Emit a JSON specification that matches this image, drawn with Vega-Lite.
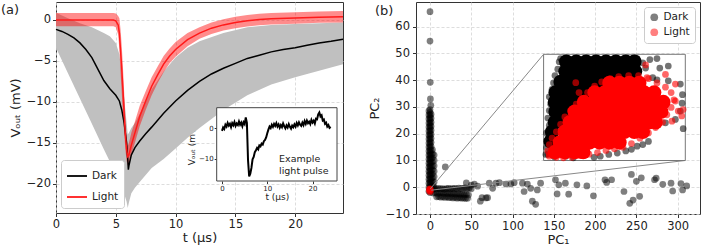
{
"$schema": "https://vega.github.io/schema/vega-lite/v6.json",
"padding": {"left": 0, "top": 1, "right": 0, "bottom": 0},
"spacing": 20,
"config": {
  "font": "DejaVu Sans",
  "view": {"stroke": "#333", "strokeWidth": 1},
  "axis": {"labelFont": "DejaVu Sans", "titleFont": "DejaVu Sans", "labelFontSize": 11.5, "titleFontSize": 13, "titleFontWeight": "normal", "labelColor": "#222", "titleColor": "#222", "tickColor": "#333", "tickSize": 3.5, "domain": false, "gridColor": "#d4d4d4", "gridDash": [3, 2], "gridWidth": 0.8, "labelPadding": 2, "labelFlush": false, "titlePadding": 4},
  "axisX": {"titlePadding": 1},
  "legend": {"fillColor": "white", "strokeColor": "#cccccc", "cornerRadius": 3, "padding": 5, "labelFont": "DejaVu Sans", "labelFontSize": 10.5, "labelColor": "#222", "rowPadding": 4}
},
"datasets": {
  "darkBand": [
    {"t":0,"lo":-3.4,"hi":0.9},{"t":1,"lo":-6.5,"hi":0.2},{"t":2,"lo":-9.6,"hi":-0.4},{"t":3,"lo":-12.7,"hi":-0.9},{"t":4,"lo":-15.8,"hi":-1.6},{"t":4.5,"lo":-17.3,"hi":-2.0},{"t":5,"lo":-18.9,"hi":-2.8},{"t":5.3,"lo":-19.8,"hi":-4.2},{"t":5.6,"lo":-20.8,"hi":-8.0},{"t":5.9,"lo":-22.2,"hi":-12.5},{"t":6.0,"lo":-23.0,"hi":-14.0},{"t":6.1,"lo":-22.3,"hi":-13.8},{"t":6.3,"lo":-21.2,"hi":-13.2},{"t":6.6,"lo":-20.5,"hi":-12.6},{"t":7,"lo":-19.8,"hi":-11.5},{"t":8,"lo":-18.1,"hi":-8.5},{"t":9,"lo":-17.0,"hi":-6.3},{"t":10,"lo":-15.7,"hi":-4.6},{"t":11,"lo":-14.4,"hi":-3.4},{"t":12,"lo":-13.2,"hi":-2.6},{"t":14,"lo":-11.0,"hi":-1.6},{"t":16,"lo":-9.2,"hi":-0.9},{"t":18,"lo":-7.9,"hi":-0.6},{"t":20,"lo":-7.0,"hi":-0.5},{"t":22,"lo":-6.2,"hi":-0.4},{"t":24,"lo":-5.4,"hi":-0.3}
  ],
  "lightBand": [
    {"t":0,"lo":-0.75,"hi":0.85},{"t":4.8,"lo":-0.75,"hi":0.85},{"t":5.0,"lo":-0.9,"hi":0.8},{"t":5.2,"lo":-1.8,"hi":0.5},{"t":5.3,"lo":-3.6,"hi":0.2},{"t":5.4,"lo":-6.5,"hi":-1.2},{"t":5.5,"lo":-9.0,"hi":-3.2},{"t":5.6,"lo":-11.5,"hi":-5.8},{"t":5.7,"lo":-13.8,"hi":-8.8},{"t":5.8,"lo":-15.8,"hi":-11.8},{"t":5.9,"lo":-17.2,"hi":-14.2},{"t":6.0,"lo":-17.8,"hi":-15.4},{"t":6.1,"lo":-17.6,"hi":-15.0},{"t":6.3,"lo":-16.5,"hi":-13.8},{"t":6.6,"lo":-15.0,"hi":-12.4},{"t":7.0,"lo":-13.0,"hi":-10.5},{"t":7.5,"lo":-11.0,"hi":-8.7},{"t":8.0,"lo":-9.2,"hi":-7.0},{"t":8.5,"lo":-7.7,"hi":-5.7},{"t":9.0,"lo":-6.4,"hi":-4.4},{"t":9.5,"lo":-5.3,"hi":-3.5},{"t":10,"lo":-4.5,"hi":-2.7},{"t":11,"lo":-3.2,"hi":-1.6},{"t":12,"lo":-2.3,"hi":-0.9},{"t":13,"lo":-1.7,"hi":-0.3},{"t":14,"lo":-1.3,"hi":0.1},{"t":15,"lo":-1.0,"hi":0.4},{"t":16,"lo":-0.8,"hi":0.6},{"t":17,"lo":-0.65,"hi":0.75},{"t":18,"lo":-0.55,"hi":0.85},{"t":20,"lo":-0.45,"hi":0.95},{"t":22,"lo":-0.35,"hi":1.05},{"t":24,"lo":-0.3,"hi":1.1}
  ],
  "lines": [
    {"t":0,"v":-1.15,"s":"Dark"},{"t":0.5,"v":-1.4,"s":"Dark"},{"t":1,"v":-1.75,"s":"Dark"},{"t":1.5,"v":-2.2,"s":"Dark"},{"t":2,"v":-2.8,"s":"Dark"},{"t":2.5,"v":-3.6,"s":"Dark"},{"t":3,"v":-4.6,"s":"Dark"},{"t":3.5,"v":-6.0,"s":"Dark"},{"t":4,"v":-7.4,"s":"Dark"},{"t":4.5,"v":-8.4,"s":"Dark"},{"t":5,"v":-9.2,"s":"Dark"},{"t":5.3,"v":-9.9,"s":"Dark"},{"t":5.5,"v":-11.0,"s":"Dark"},{"t":5.7,"v":-12.6,"s":"Dark"},{"t":5.9,"v":-15.0,"s":"Dark"},{"t":6.0,"v":-17.0,"s":"Dark"},{"t":6.05,"v":-18.3,"s":"Dark"},{"t":6.1,"v":-17.8,"s":"Dark"},{"t":6.3,"v":-16.5,"s":"Dark"},{"t":6.6,"v":-15.6,"s":"Dark"},{"t":7,"v":-14.8,"s":"Dark"},{"t":7.5,"v":-13.9,"s":"Dark"},{"t":8,"v":-13.1,"s":"Dark"},{"t":9,"v":-11.4,"s":"Dark"},{"t":10,"v":-9.9,"s":"Dark"},{"t":11,"v":-8.6,"s":"Dark"},{"t":12,"v":-7.5,"s":"Dark"},{"t":13,"v":-6.6,"s":"Dark"},{"t":14,"v":-5.9,"s":"Dark"},{"t":15,"v":-5.3,"s":"Dark"},{"t":16,"v":-4.7,"s":"Dark"},{"t":17,"v":-4.3,"s":"Dark"},{"t":18,"v":-3.9,"s":"Dark"},{"t":19,"v":-3.6,"s":"Dark"},{"t":20,"v":-3.4,"s":"Dark"},{"t":21,"v":-3.1,"s":"Dark"},{"t":22,"v":-2.8,"s":"Dark"},{"t":23,"v":-2.6,"s":"Dark"},{"t":24,"v":-2.35,"s":"Dark"},
    {"t":0,"v":0.0,"s":"Light"},{"t":2,"v":0.0,"s":"Light"},{"t":4,"v":0.0,"s":"Light"},{"t":4.8,"v":0.0,"s":"Light"},{"t":5.0,"v":-0.1,"s":"Light"},{"t":5.2,"v":-0.6,"s":"Light"},{"t":5.3,"v":-1.6,"s":"Light"},{"t":5.4,"v":-3.8,"s":"Light"},{"t":5.5,"v":-6.0,"s":"Light"},{"t":5.6,"v":-8.6,"s":"Light"},{"t":5.7,"v":-11.5,"s":"Light"},{"t":5.8,"v":-14.0,"s":"Light"},{"t":5.9,"v":-15.8,"s":"Light"},{"t":6.0,"v":-16.7,"s":"Light"},{"t":6.1,"v":-16.5,"s":"Light"},{"t":6.3,"v":-15.3,"s":"Light"},{"t":6.6,"v":-13.8,"s":"Light"},{"t":7.0,"v":-11.8,"s":"Light"},{"t":7.5,"v":-9.9,"s":"Light"},{"t":8.0,"v":-8.1,"s":"Light"},{"t":8.5,"v":-6.7,"s":"Light"},{"t":9.0,"v":-5.4,"s":"Light"},{"t":9.5,"v":-4.4,"s":"Light"},{"t":10,"v":-3.6,"s":"Light"},{"t":11,"v":-2.4,"s":"Light"},{"t":12,"v":-1.6,"s":"Light"},{"t":13,"v":-1.0,"s":"Light"},{"t":14,"v":-0.6,"s":"Light"},{"t":15,"v":-0.3,"s":"Light"},{"t":16,"v":-0.1,"s":"Light"},{"t":17,"v":0.05,"s":"Light"},{"t":18,"v":0.15,"s":"Light"},{"t":20,"v":0.25,"s":"Light"},{"t":22,"v":0.35,"s":"Light"},{"t":24,"v":0.4,"s":"Light"}
  ],
  "pulse": [
    {"t":0,"v":-0.8},{"t":0.25,"v":0.3},{"t":0.5,"v":-0.2},{"t":0.75,"v":1.2},{"t":1,"v":0.6},{"t":1.25,"v":1.8},{"t":1.5,"v":0.9},{"t":1.75,"v":1.5},{"t":2,"v":0.4},{"t":2.25,"v":1.7},{"t":2.5,"v":1.0},{"t":2.75,"v":2.1},{"t":3,"v":0.8},{"t":3.25,"v":1.6},{"t":3.5,"v":1.1},{"t":3.75,"v":2.3},{"t":4,"v":1.2},{"t":4.25,"v":1.9},{"t":4.5,"v":0.7},{"t":4.75,"v":2.0},{"t":5,"v":1.4},{"t":5.25,"v":3.6},{"t":5.5,"v":1.8},{"t":5.75,"v":-10.5},{"t":6,"v":-15.8},{"t":6.25,"v":-14.9},{"t":6.5,"v":-13.0},{"t":6.75,"v":-10.2},{"t":7,"v":-9.4},{"t":7.25,"v":-7.8},{"t":7.5,"v":-7.2},{"t":7.75,"v":-6.4},{"t":8,"v":-6.9},{"t":8.25,"v":-5.6},{"t":8.5,"v":-5.9},{"t":8.75,"v":-5.0},{"t":9,"v":-5.3},{"t":9.25,"v":-4.2},{"t":9.5,"v":-3.8},{"t":9.75,"v":-3.0},{"t":10,"v":-1.6},{"t":10.25,"v":-0.4},{"t":10.5,"v":0.6},{"t":10.75,"v":0.1},{"t":11,"v":1.2},{"t":11.25,"v":0.5},{"t":11.5,"v":1.5},{"t":11.75,"v":0.8},{"t":12,"v":1.7},{"t":12.25,"v":0.6},{"t":12.5,"v":1.3},{"t":12.75,"v":0.2},{"t":13,"v":1.1},{"t":13.25,"v":0.4},{"t":13.5,"v":1.6},{"t":13.75,"v":0.7},{"t":14,"v":0.0},{"t":14.25,"v":1.0},{"t":14.5,"v":0.3},{"t":14.75,"v":1.4},{"t":15,"v":0.5},{"t":15.25,"v":-0.1},{"t":15.5,"v":0.9},{"t":15.75,"v":0.4},{"t":16,"v":1.3},{"t":16.25,"v":0.6},{"t":16.5,"v":1.8},{"t":16.75,"v":1.0},{"t":17,"v":2.0},{"t":17.25,"v":1.2},{"t":17.5,"v":0.8},{"t":17.75,"v":1.9},{"t":18,"v":1.1},{"t":18.25,"v":2.4},{"t":18.5,"v":1.5},{"t":18.75,"v":2.6},{"t":19,"v":1.7},{"t":19.25,"v":2.2},{"t":19.5,"v":1.4},{"t":19.75,"v":2.8},{"t":20,"v":1.9},{"t":20.25,"v":2.5},{"t":20.5,"v":1.6},{"t":20.75,"v":3.2},{"t":21,"v":3.0},{"t":21.25,"v":4.6},{"t":21.5,"v":5.2},{"t":21.75,"v":3.9},{"t":22,"v":4.3},{"t":22.25,"v":2.6},{"t":22.5,"v":2.9},{"t":22.75,"v":1.5},{"t":23,"v":1.9},{"t":23.25,"v":0.6},{"t":23.5,"v":1.1},{"t":23.75,"v":0.2},{"t":24,"v":0.5}
  ],
  "pcMain": [
    {"pc1":0,"pc2":-2,"g":"Dark"},{"pc1":0,"pc2":-1,"g":"Dark"},{"pc1":0,"pc2":0,"g":"Dark"},{"pc1":0,"pc2":1,"g":"Dark"},{"pc1":0,"pc2":2,"g":"Dark"},{"pc1":0,"pc2":3,"g":"Dark"},{"pc1":0,"pc2":4,"g":"Dark"},{"pc1":0,"pc2":5,"g":"Dark"},{"pc1":0,"pc2":6,"g":"Dark"},{"pc1":0,"pc2":7,"g":"Dark"},{"pc1":0,"pc2":8,"g":"Dark"},{"pc1":0,"pc2":9,"g":"Dark"},{"pc1":0,"pc2":10,"g":"Dark"},{"pc1":0,"pc2":11,"g":"Dark"},{"pc1":0,"pc2":12,"g":"Dark"},{"pc1":0,"pc2":13,"g":"Dark"},{"pc1":0,"pc2":14,"g":"Dark"},{"pc1":0,"pc2":15,"g":"Dark"},{"pc1":0,"pc2":16,"g":"Dark"},{"pc1":0,"pc2":17,"g":"Dark"},{"pc1":0,"pc2":18,"g":"Dark"},{"pc1":0,"pc2":19,"g":"Dark"},{"pc1":0,"pc2":20,"g":"Dark"},{"pc1":0,"pc2":21,"g":"Dark"},{"pc1":0,"pc2":22,"g":"Dark"},{"pc1":0,"pc2":23,"g":"Dark"},{"pc1":0,"pc2":24,"g":"Dark"},{"pc1":0,"pc2":25,"g":"Dark"},{"pc1":0,"pc2":26,"g":"Dark"},{"pc1":0,"pc2":27,"g":"Dark"},{"pc1":0,"pc2":28,"g":"Dark"},{"pc1":0,"pc2":29,"g":"Dark"},
    {"pc1":-1.3,"pc2":-1.5,"g":"Dark"},{"pc1":-1.3,"pc2":0,"g":"Dark"},{"pc1":-1.3,"pc2":1.5,"g":"Dark"},{"pc1":-1.3,"pc2":3,"g":"Dark"},{"pc1":-1.3,"pc2":4.5,"g":"Dark"},{"pc1":-1.3,"pc2":6,"g":"Dark"},{"pc1":-1.3,"pc2":7.5,"g":"Dark"},{"pc1":-1.3,"pc2":9,"g":"Dark"},{"pc1":-1.3,"pc2":10.5,"g":"Dark"},{"pc1":-1.3,"pc2":12,"g":"Dark"},{"pc1":-1.3,"pc2":13.5,"g":"Dark"},{"pc1":-1.3,"pc2":15,"g":"Dark"},{"pc1":-1.3,"pc2":16.5,"g":"Dark"},{"pc1":-1.3,"pc2":18,"g":"Dark"},{"pc1":-1.3,"pc2":19.5,"g":"Dark"},{"pc1":-1.3,"pc2":21,"g":"Dark"},{"pc1":-1.3,"pc2":22.5,"g":"Dark"},{"pc1":-1.3,"pc2":24,"g":"Dark"},{"pc1":-1.3,"pc2":25.5,"g":"Dark"},{"pc1":-1.3,"pc2":27,"g":"Dark"},{"pc1":-1.3,"pc2":28.5,"g":"Dark"},
    {"pc1":1.3,"pc2":-1.2,"g":"Dark"},{"pc1":1.3,"pc2":0.3,"g":"Dark"},{"pc1":1.3,"pc2":1.8,"g":"Dark"},{"pc1":1.3,"pc2":3.3,"g":"Dark"},{"pc1":1.3,"pc2":4.8,"g":"Dark"},{"pc1":1.3,"pc2":6.3,"g":"Dark"},{"pc1":1.3,"pc2":7.8,"g":"Dark"},{"pc1":1.3,"pc2":9.3,"g":"Dark"},{"pc1":1.3,"pc2":10.8,"g":"Dark"},{"pc1":1.3,"pc2":12.3,"g":"Dark"},{"pc1":1.3,"pc2":13.8,"g":"Dark"},{"pc1":1.3,"pc2":15.3,"g":"Dark"},{"pc1":1.3,"pc2":16.8,"g":"Dark"},{"pc1":1.3,"pc2":18.3,"g":"Dark"},{"pc1":1.3,"pc2":19.8,"g":"Dark"},{"pc1":1.3,"pc2":21.3,"g":"Dark"},{"pc1":1.3,"pc2":22.8,"g":"Dark"},{"pc1":1.3,"pc2":24.3,"g":"Dark"},{"pc1":1.3,"pc2":25.8,"g":"Dark"},{"pc1":1.3,"pc2":27.3,"g":"Dark"},
    {"pc1":3,"pc2":-1,"g":"Dark"},{"pc1":3,"pc2":0.5,"g":"Dark"},{"pc1":3,"pc2":2,"g":"Dark"},{"pc1":3,"pc2":3.5,"g":"Dark"},{"pc1":3,"pc2":5,"g":"Dark"},{"pc1":3,"pc2":6.5,"g":"Dark"},{"pc1":3,"pc2":8,"g":"Dark"},{"pc1":3,"pc2":9.5,"g":"Dark"},{"pc1":3,"pc2":11,"g":"Dark"},{"pc1":3,"pc2":12.5,"g":"Dark"},{"pc1":3,"pc2":14,"g":"Dark"},
    {"pc1":5,"pc2":0,"g":"Dark"},{"pc1":5,"pc2":2,"g":"Dark"},{"pc1":5,"pc2":4,"g":"Dark"},{"pc1":5,"pc2":6,"g":"Dark"},{"pc1":5,"pc2":8,"g":"Dark"},{"pc1":5,"pc2":10,"g":"Dark"},{"pc1":5,"pc2":12,"g":"Dark"},
    {"pc1":0,"pc2":65.6,"g":"Dark"},{"pc1":0,"pc2":54.6,"g":"Dark"},{"pc1":0.3,"pc2":39.2,"g":"Dark"},{"pc1":0.5,"pc2":33.0,"g":"Dark"},{"pc1":1,"pc2":30.6,"g":"Dark"},{"pc1":18.5,"pc2":7.6,"g":"Dark"},
    {"pc1":5,"pc2":-0.5,"g":"Dark"},{"pc1":7.5,"pc2":-0.6,"g":"Dark"},{"pc1":10,"pc2":-0.4,"g":"Dark"},{"pc1":12.5,"pc2":-0.6,"g":"Dark"},{"pc1":15,"pc2":-0.5,"g":"Dark"},{"pc1":17.5,"pc2":-0.7,"g":"Dark"},{"pc1":20,"pc2":-0.5,"g":"Dark"},{"pc1":22.5,"pc2":-0.4,"g":"Dark"},{"pc1":25,"pc2":-0.6,"g":"Dark"},{"pc1":27.5,"pc2":-0.5,"g":"Dark"},{"pc1":30,"pc2":-0.4,"g":"Dark"},{"pc1":32.5,"pc2":-0.6,"g":"Dark"},{"pc1":35,"pc2":-0.3,"g":"Dark"},{"pc1":37.5,"pc2":-0.5,"g":"Dark"},{"pc1":40,"pc2":-0.4,"g":"Dark"},{"pc1":42.5,"pc2":-0.2,"g":"Dark"},{"pc1":45,"pc2":-0.5,"g":"Dark"},{"pc1":47.5,"pc2":-0.3,"g":"Dark"},{"pc1":50,"pc2":-0.6,"g":"Dark"},
    {"pc1":4,"pc2":-2.2,"g":"Dark"},{"pc1":6.5,"pc2":-2.1,"g":"Dark"},{"pc1":9,"pc2":-2.3,"g":"Dark"},{"pc1":11.5,"pc2":-2.2,"g":"Dark"},{"pc1":14,"pc2":-2.0,"g":"Dark"},{"pc1":16.5,"pc2":-2.3,"g":"Dark"},{"pc1":19,"pc2":-2.2,"g":"Dark"},{"pc1":21.5,"pc2":-2.4,"g":"Dark"},{"pc1":24,"pc2":-2.2,"g":"Dark"},{"pc1":26.5,"pc2":-2.5,"g":"Dark"},{"pc1":29,"pc2":-2.3,"g":"Dark"},{"pc1":31.5,"pc2":-2.6,"g":"Dark"},{"pc1":34,"pc2":-2.4,"g":"Dark"},{"pc1":36.5,"pc2":-2.7,"g":"Dark"},{"pc1":39,"pc2":-2.5,"g":"Dark"},{"pc1":41.5,"pc2":-2.8,"g":"Dark"},{"pc1":44,"pc2":-2.6,"g":"Dark"},{"pc1":46.5,"pc2":-2.9,"g":"Dark"},
    {"pc1":8,"pc2":-3.6,"g":"Dark"},{"pc1":10.5,"pc2":-3.5,"g":"Dark"},{"pc1":13,"pc2":-3.7,"g":"Dark"},{"pc1":15.5,"pc2":-3.6,"g":"Dark"},{"pc1":18,"pc2":-3.8,"g":"Dark"},{"pc1":20.5,"pc2":-3.6,"g":"Dark"},{"pc1":23,"pc2":-3.9,"g":"Dark"},{"pc1":25.5,"pc2":-3.7,"g":"Dark"},{"pc1":28,"pc2":-4.0,"g":"Dark"},{"pc1":30.5,"pc2":-3.8,"g":"Dark"},{"pc1":33,"pc2":-4.1,"g":"Dark"},{"pc1":35.5,"pc2":-3.9,"g":"Dark"},{"pc1":38,"pc2":-4.1,"g":"Dark"},{"pc1":40.5,"pc2":-4.0,"g":"Dark"},{"pc1":43,"pc2":-4.2,"g":"Dark"},{"pc1":45.5,"pc2":-4.1,"g":"Dark"},
    {"pc1":44,"pc2":1.6,"g":"Dark"},{"pc1":50,"pc2":0.8,"g":"Dark"},
    {"pc1":53.7,"pc2":1.2,"g":"Dark"},{"pc1":57.7,"pc2":0.4,"g":"Dark"},{"pc1":61,"pc2":-5.2,"g":"Dark"},{"pc1":63,"pc2":-3.9,"g":"Dark"},{"pc1":67.8,"pc2":-4,"g":"Dark"},{"pc1":69.8,"pc2":-3.9,"g":"Dark"},{"pc1":71.8,"pc2":1.5,"g":"Dark"},{"pc1":75.9,"pc2":-0.4,"g":"Dark"},{"pc1":79.9,"pc2":1.5,"g":"Dark"},{"pc1":84,"pc2":1.7,"g":"Dark"},{"pc1":92,"pc2":1.2,"g":"Dark"},{"pc1":98,"pc2":1.2,"g":"Dark"},{"pc1":102,"pc2":1.7,"g":"Dark"},{"pc1":112,"pc2":1.5,"g":"Dark"},{"pc1":114,"pc2":-1.6,"g":"Dark"},{"pc1":118,"pc2":1.2,"g":"Dark"},{"pc1":122,"pc2":-0.4,"g":"Dark"},{"pc1":124,"pc2":-5.2,"g":"Dark"},{"pc1":128,"pc2":-6.4,"g":"Dark"},{"pc1":130,"pc2":-1.0,"g":"Dark"},{"pc1":134,"pc2":1.5,"g":"Dark"},{"pc1":152,"pc2":2.8,"g":"Dark"},{"pc1":154,"pc2":-2.5,"g":"Dark"},{"pc1":156,"pc2":0.9,"g":"Dark"},{"pc1":164,"pc2":1.5,"g":"Dark"},{"pc1":168,"pc2":-2.6,"g":"Dark"},{"pc1":178,"pc2":0.9,"g":"Dark"},{"pc1":190,"pc2":0.5,"g":"Dark"},{"pc1":198,"pc2":-3.2,"g":"Dark"},{"pc1":212,"pc2":2.8,"g":"Dark"},{"pc1":214,"pc2":1.8,"g":"Dark"},{"pc1":220,"pc2":2.8,"g":"Dark"},{"pc1":235,"pc2":-1.6,"g":"Dark"},{"pc1":242,"pc2":-6.0,"g":"Dark"},{"pc1":244,"pc2":4.8,"g":"Dark"},{"pc1":246,"pc2":-4.8,"g":"Dark"},{"pc1":250,"pc2":2.2,"g":"Dark"},{"pc1":254,"pc2":-3.4,"g":"Dark"},{"pc1":256,"pc2":3.5,"g":"Dark"},{"pc1":272,"pc2":2.8,"g":"Dark"},{"pc1":274,"pc2":3.4,"g":"Dark"},{"pc1":282,"pc2":1.1,"g":"Dark"},{"pc1":292,"pc2":1.5,"g":"Dark"},{"pc1":294,"pc2":-1.4,"g":"Dark"},{"pc1":304,"pc2":1.4,"g":"Dark"},{"pc1":311,"pc2":0.5,"g":"Dark"},{"pc1":306,"pc2":-1.0,"g":"Dark"},
    {"pc1":0,"pc2":-1.1,"g":"Light"},{"pc1":-0.6,"pc2":-1.5,"g":"Light"},{"pc1":0.5,"pc2":-0.7,"g":"Light"},{"pc1":-0.3,"pc2":-0.6,"g":"Light"},{"pc1":0.6,"pc2":-1.6,"g":"Light"},{"pc1":-0.8,"pc2":-0.9,"g":"Light"}
  ],
  "connectors": [
    {"pc1":0.4,"pc2":-0.6,"pc1_end":137.65,"pc2_end":49.66},
    {"pc1":1.6,"pc2":-1.1,"pc1_end":309.35,"pc2_end":9.99}
  ],
  "zoomDarkCore": [
    {"u":16,"w":93},{"u":23,"w":93},{"u":30,"w":93},{"u":37,"w":93},{"u":44,"w":93},{"u":51,"w":93},{"u":58,"w":93},{"u":64,"w":93},
    {"u":15.5,"w":84},{"u":22.5,"w":84},{"u":29.5,"w":84},{"u":36.5,"w":84},{"u":43.5,"w":84},{"u":50.5,"w":84},{"u":57.5,"w":84},{"u":64.5,"w":84},
    {"u":12,"w":74},{"u":19,"w":74},{"u":26,"w":74},{"u":33,"w":74},{"u":40,"w":74},{"u":47,"w":74},
    {"u":8.5,"w":64},{"u":15.5,"w":64},{"u":22.5,"w":64},{"u":29.5,"w":64},{"u":36.5,"w":64},
    {"u":8,"w":55},{"u":15,"w":55},{"u":22,"w":55},{"u":29,"w":55},
    {"u":8.5,"w":46},{"u":15.5,"w":46},{"u":22,"w":46},{"u":8,"w":36},{"u":14,"w":36},{"u":6,"w":27},{"u":5,"w":18}
  ],
  "zoomDarkEdge": [
    {"u":3,"w":6},{"u":2,"w":12},{"u":3,"w":19},{"u":2,"w":26},{"u":4,"w":33},{"u":3,"w":40},{"u":4,"w":47},{"u":5,"w":53},{"u":4,"w":60},{"u":6,"w":67},{"u":7,"w":73},{"u":8,"w":80},{"u":10,"w":86},{"u":11,"w":93},{"u":12,"w":96},
    {"u":66,"w":96},{"u":70,"w":92},{"u":72,"w":87},{"u":75,"w":95},{"u":80,"w":96},{"u":82,"w":87},{"u":88,"w":89},{"u":77,"w":78},{"u":80,"w":76},{"u":88,"w":75},{"u":96.5,"w":72},{"u":98,"w":62},{"u":97.7,"w":54},{"u":96.5,"w":46.5},{"u":93,"w":38.7},{"u":98.5,"w":30},{"u":86,"w":35.5},
    {"u":74,"w":18},{"u":70,"w":15},{"u":66,"w":13.5},{"u":62,"w":10.5},{"u":58,"w":9},{"u":52,"w":7},{"u":46,"w":5.7},{"u":40,"w":4},{"u":35.6,"w":3},{"u":27.4,"w":5},{"u":21,"w":2.5},{"u":15.7,"w":4},{"u":7.5,"w":3.5},{"u":1.6,"w":5.7},{"u":6,"w":36},{"u":7,"w":55}
  ],
  "zoomLightCore": [
    {"u":8,"w":8},{"u":15,"w":8},{"u":22,"w":8},{"u":28,"w":8},
    {"u":11.5,"w":17},{"u":18.5,"w":17},{"u":25.5,"w":17},{"u":32.5,"w":17},{"u":39.5,"w":17},{"u":46.5,"w":17},{"u":53.5,"w":17},
    {"u":15,"w":27},{"u":22,"w":27},{"u":29,"w":27},{"u":36,"w":27},{"u":43,"w":27},{"u":50,"w":27},{"u":57,"w":27},{"u":64,"w":27},{"u":70,"w":27},
    {"u":18.5,"w":36},{"u":25.5,"w":36},{"u":32.5,"w":36},{"u":39.5,"w":36},{"u":46.5,"w":36},{"u":53.5,"w":36},{"u":60.5,"w":36},{"u":67.5,"w":36},{"u":74.5,"w":36},{"u":79,"w":36},
    {"u":22,"w":46},{"u":29,"w":46},{"u":36,"w":46},{"u":43,"w":46},{"u":50,"w":46},{"u":57,"w":46},{"u":64,"w":46},{"u":71,"w":46},{"u":78,"w":46},{"u":83,"w":46},
    {"u":28.5,"w":55},{"u":35.5,"w":55},{"u":42.5,"w":55},{"u":49.5,"w":55},{"u":56.5,"w":55},{"u":63.5,"w":55},{"u":70.5,"w":55},{"u":77.5,"w":55},{"u":84.5,"w":55},
    {"u":36,"w":64},{"u":43,"w":64},{"u":50,"w":64},{"u":57,"w":64},{"u":64,"w":64},{"u":71,"w":64},{"u":78,"w":64},
    {"u":46.5,"w":73},{"u":53.5,"w":73},{"u":60.5,"w":73},{"u":67.5,"w":73}
  ],
  "zoomLightEdge": [
    {"u":4,"w":4},{"u":9,"w":3},{"u":14,"w":2.5},{"u":20,"w":3},{"u":26,"w":4.5},{"u":32,"w":6},{"u":38,"w":7.5},{"u":44,"w":9.5},{"u":50,"w":11},{"u":56,"w":12.5},{"u":62,"w":16},{"u":68,"w":21},{"u":74,"w":26},{"u":79,"w":31},{"u":84,"w":36},{"u":87,"w":43},{"u":90,"w":50},{"u":92,"w":57},{"u":90,"w":64},{"u":86,"w":69},{"u":80,"w":73},{"u":74,"w":77},{"u":67,"w":80},{"u":60,"w":80},{"u":53,"w":79},{"u":47,"w":77},{"u":41,"w":74},{"u":36,"w":70},{"u":31,"w":64},{"u":27,"w":58},{"u":23,"w":53},{"u":19,"w":47},{"u":15,"w":41},{"u":12,"w":34},{"u":9,"w":27},{"u":6,"w":21},{"u":4,"w":15},{"u":3,"w":9},
    {"u":22.7,"w":73.3},{"u":25,"w":64},{"u":73,"w":78},{"u":72,"w":90},{"u":86,"w":81},{"u":93,"w":72},{"u":93,"w":56},{"u":90.6,"w":37},{"u":95,"w":46.5},{"u":97.5,"w":42},{"u":98.5,"w":48},{"u":4,"w":5.7}
  ]
},
"hconcat": [
  {
    "width": 287, "height": 211,
    "layer": [
      {
        "encoding": {"x": {"field": "t", "type": "quantitative", "title": "t (μs)", "scale": {"domain": [0, 24], "nice": false, "zero": false}, "axis": {"values": [0, 5, 10, 15, 20], "grid": true}}},
        "layer": [
          {"data": {"name": "darkBand"}, "mark": {"type": "area", "color": "#c0c0c0", "opacity": 1},
           "encoding": {"y": {"field": "lo", "type": "quantitative", "title": "Vₒᵤₜ (mV)", "scale": {"domain": [-23.6, 2.2], "nice": false, "zero": false}, "axis": {"values": [0, -5, -10, -15, -20], "grid": true}}, "y2": {"field": "hi"}}},
          {"data": {"name": "lightBand"}, "mark": {"type": "area", "color": "#ff0000", "opacity": 0.45},
           "encoding": {"y": {"field": "lo", "type": "quantitative", "title": "Vₒᵤₜ (mV)"}, "y2": {"field": "hi"}}},
          {"data": {"name": "lines"}, "mark": {"type": "line", "strokeWidth": 1.5},
           "encoding": {"y": {"field": "v", "type": "quantitative", "title": "Vₒᵤₜ (mV)"},
             "color": {"field": "s", "type": "nominal", "scale": {"domain": ["Dark", "Light"], "range": ["#000000", "#ff1a1a"]},
               "legend": {"title": null, "orient": "bottom-left", "offset": 5, "symbolType": "stroke", "symbolSize": 400, "symbolStrokeWidth": 1.8, "labelFontSize": 10.5}}}},
          {"data": {"values": [{"t": -4.6, "v": 1.2, "label": "(a)"}]}, "mark": {"type": "text", "align": "left", "baseline": "middle", "fontSize": 13, "color": "#222"},
           "encoding": {"y": {"field": "v", "type": "quantitative", "title": "Vₒᵤₜ (mV)"}, "text": {"field": "label"}}}
        ]
      },
      {
        "encoding": {
          "x": {"field": "t", "type": "quantitative", "title": "t (μs)", "scale": {"domain": [-1.17, 25.4], "range": [160.7, 281], "nice": false, "zero": false},
                "axis": {"orient": "bottom", "offset": -32, "values": [0, 10, 20], "grid": false, "labelFontSize": 7, "titleFontSize": 9, "tickSize": 2.5, "labelPadding": 1, "titlePadding": 1}},
          "y": {"field": "v", "type": "quantitative", "title": "Vₒᵤₜ (mV)", "scale": {"domain": [-17.3, 6.8], "range": [179, 105.7], "nice": false, "zero": false},
                "axis": {"orient": "left", "offset": -160.7, "values": [0, -10], "grid": false, "labelFontSize": 7, "titleFontSize": 9, "tickSize": 2.5, "labelPadding": 1, "titlePadding": 2}}
        },
        "layer": [
          {"data": {"values": [{"t": -1.17, "t2": 25.4, "v": -17.3, "v2": 6.8}]}, "mark": {"type": "rect", "fill": "white", "stroke": "#444", "strokeWidth": 1},
           "encoding": {"x2": {"field": "t2"}, "y2": {"field": "v2"}}},
          {"data": {"name": "pulse"}, "mark": {"type": "line", "color": "black", "strokeWidth": 2}, "encoding": {}},
          {"data": {"values": [{"t": 12.6, "v": -10.2, "label": "Example"}, {"t": 12.6, "v": -14.0, "label": "light pulse"}]},
           "mark": {"type": "text", "align": "left", "baseline": "middle", "fontSize": 9.5, "color": "#222"},
           "encoding": {"text": {"field": "label"}}}
        ]
      }
    ],
    "resolve": {"scale": {"x": "independent", "y": "independent"}}
  },
  {
    "width": 284, "height": 212,
    "layer": [
      {
        "encoding": {
          "x": {"field": "pc1", "type": "quantitative", "title": "PC₁", "scale": {"domain": [-16.96, 327.1], "nice": false, "zero": false}, "axis": {"values": [0, 50, 100, 150, 200, 250, 300], "grid": true, "labelPadding": 3}},
          "y": {"field": "pc2", "type": "quantitative", "title": "PC₂", "scale": {"domain": [-10, 69.2], "nice": false, "zero": false}, "axis": {"values": [-10, 0, 10, 20, 30, 40, 50, 60], "grid": true, "labelPadding": 3}}
        },
        "layer": [
          {"data": {"name": "pcMain"}, "mark": {"type": "circle", "size": 45, "opacity": 0.5},
           "encoding": {"color": {"field": "g", "type": "nominal", "scale": {"domain": ["Dark", "Light"], "range": ["#000000", "#ff0000"]},
             "legend": {"title": null, "orient": "top-right", "offset": 5, "symbolType": "circle", "symbolSize": 60, "labelFontSize": 10.5}}}},
          {"data": {"name": "connectors"}, "mark": {"type": "rule", "color": "#888888", "strokeWidth": 1},
           "encoding": {"x2": {"field": "pc1_end"}, "y2": {"field": "pc2_end"}}},
          {"data": {"values": [{"pc1": -66.6, "pc2": 65.8, "label": "(b)"}]}, "mark": {"type": "text", "align": "left", "baseline": "middle", "fontSize": 13, "color": "#222"},
           "encoding": {"text": {"field": "label"}}}
        ]
      },
      {
        "encoding": {
          "x": {"field": "u", "type": "quantitative", "scale": {"domain": [0, 100], "range": [127.6, 269.3], "nice": false, "zero": false}, "axis": null},
          "y": {"field": "w", "type": "quantitative", "scale": {"domain": [0, 100], "range": [158.5, 52.3], "nice": false, "zero": false}, "axis": null}
        },
        "layer": [
          {"data": {"values": [{"u": 0, "u2": 100, "w": 0, "w2": 100}]}, "mark": {"type": "rect", "fill": "white", "stroke": "#777777", "strokeWidth": 1},
           "encoding": {"x2": {"field": "u2"}, "y2": {"field": "w2"}}},
          {"data": {"name": "zoomDarkCore"}, "mark": {"type": "circle", "size": 210, "opacity": 1, "color": "#000000"}, "encoding": {}},
          {"data": {"name": "zoomDarkEdge"}, "mark": {"type": "circle", "size": 45, "opacity": 0.55, "color": "#000000"}, "encoding": {}},
          {"data": {"name": "zoomLightCore"}, "mark": {"type": "circle", "size": 210, "opacity": 1, "color": "#ff0000"}, "encoding": {}},
          {"data": {"name": "zoomLightEdge"}, "mark": {"type": "circle", "size": 45, "opacity": 0.6, "color": "#ff0000"}, "encoding": {}}
        ]
      }
    ],
    "resolve": {"scale": {"x": "independent", "y": "independent"}}
  }
],
"resolve": {"scale": {"color": "independent"}, "legend": {"color": "independent"}}
}
